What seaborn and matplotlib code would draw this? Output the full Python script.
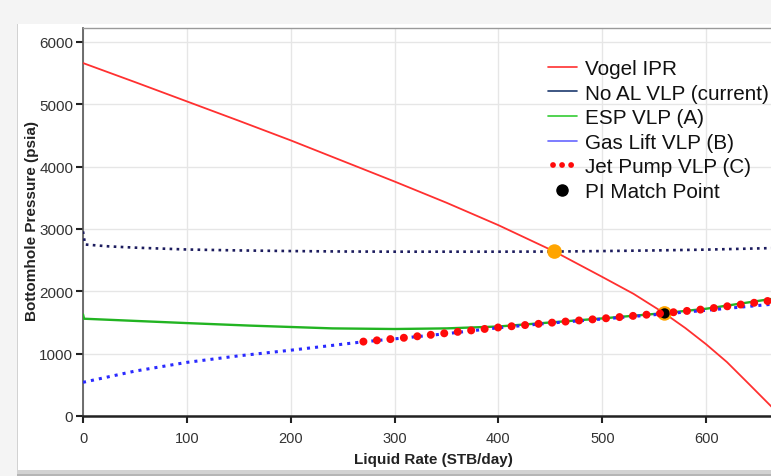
import matplotlib
matplotlib.use("Agg")
import matplotlib.pyplot as plt
import seaborn as sns
import numpy as np
from matplotlib.lines import Line2D
from matplotlib.patches import Rectangle

# ---------------- data ----------------
ipr_q = [0, 50, 100, 150, 200, 250, 300, 350, 400, 454, 500, 530, 560, 580, 600, 620, 642, 662, 672]
ipr_p = [5660, 5355, 5045, 4735, 4420, 4090, 3760, 3420, 3060, 2637, 2230, 1960, 1645, 1410, 1150, 865, 500, 165, 0]

noal_q = [0, 2, 25, 50, 100, 150, 200, 250, 300, 350, 400, 454, 500, 550, 600, 662, 672]
noal_p = [2960, 2750, 2720, 2700, 2670, 2655, 2645, 2638, 2635, 2635, 2635, 2637, 2645, 2655, 2668, 2692, 2695]

esp_q = [0, 1, 50, 100, 160, 240, 300, 350, 400, 450, 500, 560, 600, 662, 672]
esp_p = [1630, 1560, 1525, 1490, 1450, 1405, 1395, 1405, 1435, 1500, 1565, 1650, 1720, 1875, 1895]

gl_q = [0, 50, 100, 150, 200, 270, 305, 350, 400, 450, 500, 560, 600, 662, 672]
gl_p = [540, 720, 860, 965, 1055, 1190, 1245, 1320, 1415, 1490, 1555, 1638, 1695, 1790, 1805]

jp_q = [270, 305, 350, 400, 450, 500, 560, 600, 662, 672]
jp_p = [1193, 1247, 1330, 1420, 1495, 1562, 1650, 1715, 1850, 1868]

op_q = [454, 560]          # operating points (orange)
op_p = [2637, 1645]
pi_q = [560]               # PI match point (black)
pi_p = [1645]

x_ticks = [0, 100, 200, 300, 400, 500, 600]
y_ticks = [0, 1000, 2000, 3000, 4000, 5000, 6000]

legend_labels = ["Vogel IPR", "No AL VLP (current)", "ESP VLP (A)",
                 "Gas Lift VLP (B)", "Jet Pump VLP (C)", "PI Match Point"]

# ---------------- style ----------------
sns.set_theme(style="white")
plt.rcParams['font.family'] = ['Liberation Sans', 'DejaVu Sans']

W, H = 771, 477
fig = plt.figure(figsize=(W / 100, H / 100), dpi=100)
fig.patch.set_facecolor('#f4f4f4')

# card panel with shadow (shadow only below the card)
fig.patches.append(Rectangle((17 / W, 0), 1, (H - 26) / H, transform=fig.transFigure,
                             facecolor='#b5b5b5', edgecolor='none', zorder=-3))
fig.patches.append(Rectangle((17 / W, 2 / H), 1, (H - 27) / H, transform=fig.transFigure,
                             facecolor='#d2d2d2', edgecolor='none', zorder=-2))
fig.patches.append(Rectangle((18 / W, 6 / H), 1, (H - 31) / H, transform=fig.transFigure,
                             facecolor='white', edgecolor='none', zorder=-1))

ax_left, ax_right, ax_bottom, ax_top = 83, 783, 417, 28.5
ax = fig.add_axes([ax_left / W, 1 - ax_bottom / H, (ax_right - ax_left) / W, (ax_bottom - ax_top) / H])
ax.set_zorder(1)
ax.set_facecolor('white')

# ---------------- curves ----------------
sns.lineplot(x=ipr_q, y=ipr_p, ax=ax, color='#ff3030', lw=1.3, zorder=3, sort=False)
sns.lineplot(x=noal_q, y=noal_p, ax=ax, color='#1c1c5e', lw=1.9, linestyle=':', zorder=3, sort=False)
sns.lineplot(x=esp_q, y=esp_p, ax=ax, color='#22b422', lw=1.7, zorder=3, sort=False)
sns.lineplot(x=gl_q, y=gl_p, ax=ax, color='#2a2aff', lw=2.2, linestyle=':', zorder=3, sort=False)
sns.lineplot(x=jp_q, y=jp_p, ax=ax, color='#ff0a0a', lw=5.8, linestyle=(0, (0.001, 1.68)),
             dash_capstyle='round', zorder=7, sort=False)

sns.scatterplot(x=op_q, y=op_p, ax=ax, color='#ffa500', s=110, edgecolor='none', zorder=5)
sns.scatterplot(x=pi_q, y=pi_p, ax=ax, color='black', s=55, edgecolor='none', zorder=6)

# ---------------- axes ----------------
ax.set_xlim(0, 674)
ax.set_ylim(0, 6230)
ax.set_xticks(x_ticks)
ax.set_yticks(y_ticks)
ax.grid(True, color='#e6e6e6', lw=1)
ax.set_axisbelow(True)

ax.spines['right'].set_visible(False)
ax.spines['left'].set_color('#555555')
ax.spines['left'].set_linewidth(1.2)
ax.spines['top'].set_color('#9a9a9a')
ax.spines['top'].set_linewidth(1.0)
ax.spines['bottom'].set_color('#222222')
ax.spines['bottom'].set_linewidth(1.8)

ax.tick_params(axis='both', which='major', direction='out', length=5, width=1.5,
               color='#222222', labelcolor='#333333', pad=2)
ax.tick_params(axis='y', labelsize=11)
ax.tick_params(axis='x', labelsize=10.5, pad=5.5)
ax.tick_params(left=True, bottom=True)

ax.set_xlabel("Liquid Rate (STB/day)", fontsize=11, fontweight='bold', color='#222222')
ax.set_ylabel("Bottomhole Pressure (psia)", fontsize=11, fontweight='bold', color='#222222')
ax.xaxis.set_label_coords(0.5, -0.093)
ax.yaxis.set_label_coords(-0.063, 0.505)

# ---------------- legend ----------------
handles = [
    Line2D([], [], color='#ff3030', lw=1.2),
    Line2D([], [], color='#1c3a6e', lw=1.2),
    Line2D([], [], color='#33cc33', lw=1.2),
    Line2D([], [], color='#6666ff', lw=1.2),
    Line2D([], [], color='#ff0a0a', lw=4.2, linestyle=(0.69, (0.001, 1.55)), dash_capstyle='round'),
    Line2D([], [], color='black', lw=0, marker='o', markersize=8),
]
leg = fig.legend(handles, legend_labels, loc='upper left',
                 bbox_to_anchor=(548 / W, 1 - 60 / H), frameon=False,
                 fontsize=14.9, handlelength=1.38, handletextpad=0.43,
                 labelspacing=0.27, borderpad=0, borderaxespad=0)
leg.set_zorder(10)
for t in leg.get_texts():
    t.set_color('#111111')

fig.savefig("out.png", dpi=100, facecolor=fig.get_facecolor())
